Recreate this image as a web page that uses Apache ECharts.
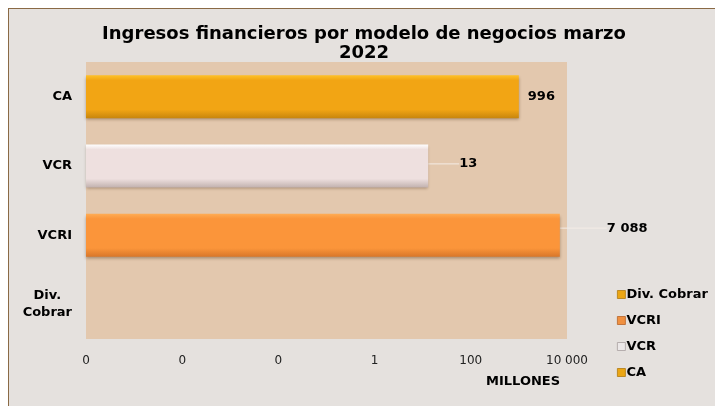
<!DOCTYPE html>
<html><head><meta charset="utf-8">
<script src="https://cdn.jsdelivr.net/npm/echarts@6/dist/echarts.min.js"></script>
<style>
html,body{margin:0;padding:0;background:#fff;}
#frame{position:absolute;left:8px;top:8px;width:720px;height:420px;border:1px solid #8a6a45;background:#e5e1de;}
#chart{position:absolute;left:0;top:0;width:715px;height:406px;}
</style></head>
<body>
<div id="frame"></div>
<div id="chart"></div>
<script>
var categories = ['Div. Cobrar', 'VCRI', 'VCR', 'CA'];
var seriesNames = ['Div. Cobrar', 'VCRI', 'VCR', 'CA'];
var values = [null, 7088, 13, 996];
var tickValues = [0.000001, 0.0001, 0.01, 1, 100, 10000];
var titleText = 'Ingresos financieros por modelo de negocios marzo\n2022';
var axisTitle = 'MILLONES';

var FONT = 'DejaVu Sans';
function fmt(v) {
  if (v < 1) return '0';
  return String(Math.round(v)).replace(/\B(?=(\d{3})+(?!\d))/g, ' ');
}
function grad(top, mid, bot) {
  return new echarts.graphic.LinearGradient(0, 0, 0, 1, [
    {offset: 0, color: top}, {offset: 0.12, color: mid}, {offset: 0.8, color: mid}, {offset: 1, color: bot}
  ]);
}
var styles = {
  'Div. Cobrar': {fill: grad('#ffc22a', '#f2a514', '#c8860c'), legend: '#eba614', border: '#b07a10', dx: 0, dy: 0},
  'VCRI': {fill: grad('#ffad55', '#fb953a', '#d9772a'), legend: '#f09040', border: '#b8642a', dx: 38, dy: -7},
  'VCR': {fill: grad('#ffffff', '#eee0df', '#c2b2b0'), legend: '#ece8e8', border: '#a8a0a0', dx: 22, dy: -2},
  'CA': {fill: grad('#ffc22a', '#f2a514', '#c8860c'), legend: '#eba614', border: '#b07a10', dx: 0, dy: 0}
};

var series = seriesNames.map(function (name, i) {
  var data = categories.map(function (c, j) { return j === i ? values[i] : null; });
  var st = styles[name];
  return {
    name: name,
    type: 'bar',
    data: data,
    barWidth: 43,
    barGap: '-100%',
    itemStyle: {
      color: st.fill,
      shadowColor: 'rgba(60,30,0,0.35)', shadowBlur: 3, shadowOffsetY: 2
    },
    label: {
      show: true, position: 'right', distance: 9,
      fontFamily: FONT, fontWeight: 'bold', fontSize: 13, color: '#000',
      formatter: function (p) { return fmt(p.value); }
    },
    labelLayout: {dx: st.dx, dy: st.dy},
    labelLine: {show: st.dx !== 0, lineStyle: {color: '#f4ece6', width: 1}}
  };
});

var chart = echarts.init(document.getElementById('chart'), null, {renderer: 'canvas'});
chart.setOption({
  animation: false,
  title: {
    text: titleText, left: 364, top: 25, textAlign: 'center', padding: 0,
    textStyle: {fontFamily: FONT, fontWeight: 'bold', fontSize: 18, color: '#000', lineHeight: 19}
  },
  grid: {left: 86, right: 148, top: 62, bottom: 67, show: true, backgroundColor: '#e3c8ae', borderWidth: 0},
  legend: {
    orient: 'vertical', left: 612, top: 283, itemWidth: 8, itemHeight: 8, itemGap: 13,
    icon: 'rect',
    data: seriesNames.map(function (n) {
      return {name: n, itemStyle: {color: styles[n].legend, borderColor: styles[n].border, borderWidth: 0.8, shadowBlur: 0, shadowOffsetY: 0}};
    }),
    textStyle: {fontFamily: FONT, fontWeight: 'bold', fontSize: 13, color: '#000', padding: [0, 0, 0, -4]}
  },
  xAxis: {
    type: 'log', logBase: 100, min: tickValues[0], max: tickValues[tickValues.length - 1], splitNumber: 5,
    startValue: tickValues[0],
    axisLine: {show: false}, axisTick: {show: false}, splitLine: {show: false},
    axisLabel: {fontFamily: FONT, fontSize: 12, color: '#222', margin: 16, formatter: fmt}
  },
  yAxis: {
    type: 'category', data: categories,
    axisLine: {show: false}, axisTick: {show: false}, splitLine: {show: false},
    axisLabel: {
      fontFamily: FONT, fontWeight: 'bold', fontSize: 13, color: '#000', margin: 14, lineHeight: 17,
      formatter: function (v) {
        var parts = v.split(' ');
        if (parts.length > 1) return parts.map(function (p) { return '{c|' + p + '}'; }).join('\n');
        return v;
      },
      rich: {c: {align: 'center', fontFamily: FONT, fontWeight: 'bold', fontSize: 13, color: '#000', lineHeight: 17}}
    }
  },
  graphic: [{
    type: 'text', left: 486, top: 375,
    style: {text: axisTitle, fontFamily: FONT, fontWeight: 'bold', fontSize: 13, fill: '#000'}
  }],
  series: series
});
</script>
</body></html>
